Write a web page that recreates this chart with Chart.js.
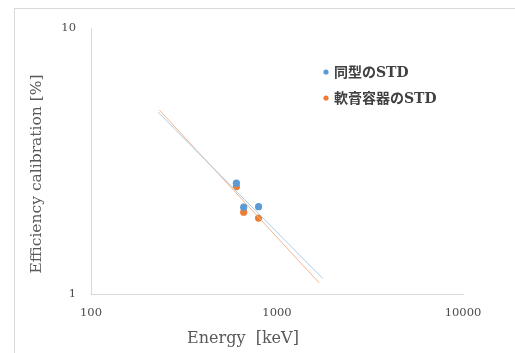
<!DOCTYPE html>
<html>
<head>
<meta charset="utf-8">
<script src="https://cdn.jsdelivr.net/npm/chart.js@4/dist/chart.umd.min.js"></script>
<style>
  html, body { margin: 0; padding: 0; background: #fff; overflow: hidden; }
  #wrap { position: relative; width: 515px; height: 353px; }
  #frame { position: absolute; left: 14px; top: 8px; width: 600px; height: 400px; border: 1px solid #d9d9d9; box-sizing: border-box; }
  #chart { position: absolute; left: 0; top: 0; }
</style>
</head>
<body>
<div id="wrap">
  <div id="frame"></div>
  <canvas id="chart" width="515" height="353"></canvas>
</div>
<script>
// measured points (keV vs %)
const energies = [605, 662, 796];
const sameType = [2.61, 2.12, 2.13];
const ointment = [2.53, 2.03, 1.93];

// trendline end points
const trendSameX = [229, 1758];
const trendSameY = [4.83, 1.146];
const trendOintX = [233, 1687];
const trendOintY = [4.92, 1.10];

const xTicks = [100, 1000, 10000];
const yTicks = [1, 10];

const seriesNames = ['同型のSTD', '軟膏容器のSTD'];
const BLUE = '#5b9bd5';
const ORANGE = '#ed7d31';

const toPoints = (xs, ys) => xs.map((x, i) => ({ x: x, y: ys[i] }));

// legend drawn inside the plot, like the Excel one
const insideLegend = {
    id: 'insideLegend',
    afterDatasetsDraw(chart) {
        const ctx = chart.ctx;
        const items = chart.data.datasets.filter(d => d.showInLegend);
        ctx.save();
        ctx.font = 'bold 14px "DejaVu Serif", "Noto Sans CJK JP"';
        ctx.textBaseline = 'middle';
        ctx.textAlign = 'left';
        items.forEach((d, i) => {
            const y = 72 + i * 26;
            ctx.fillStyle = d.backgroundColor;
            ctx.beginPath();
            ctx.arc(326, y, 2.6, 0, Math.PI * 2);
            ctx.fill();
            ctx.fillStyle = '#404040';
            ctx.fillText(d.label, 334, y + 1);
        });
        ctx.restore();
    }
};

// axis titles placed where the original has them
const axisTitles = {
    id: 'axisTitles',
    afterDraw(chart) {
        const ctx = chart.ctx;
        ctx.save();
        ctx.fillStyle = '#595959';
        ctx.textAlign = 'center';
        ctx.textBaseline = 'middle';
        ctx.font = '16px "DejaVu Serif"';
        ctx.fillText('Energy  [keV]', 243, 339);
        ctx.translate(37, 174);
        ctx.rotate(-Math.PI / 2);
        ctx.font = '15.5px "DejaVu Serif"';
        ctx.fillText('Efficiency calibration [%]', 0, 0);
        ctx.restore();
    }
};

new Chart(document.getElementById('chart').getContext('2d'), {
    type: 'scatter',
    data: {
        datasets: [
            { type: 'line', label: 'trend1', data: toPoints(trendSameX, trendSameY), borderColor: '#a9cbea', borderWidth: 1, pointRadius: 0, fill: false },
            { type: 'line', label: 'trend2', data: toPoints(trendOintX, trendOintY), borderColor: '#f5b48a', borderWidth: 1, pointRadius: 0, fill: false },
            { label: seriesNames[0], showInLegend: true, data: toPoints(energies, sameType), backgroundColor: BLUE, borderColor: BLUE, pointRadius: 3.6, borderWidth: 0 },
            { label: seriesNames[1], showInLegend: true, data: toPoints(energies, ointment), backgroundColor: ORANGE, borderColor: ORANGE, pointRadius: 3.6, borderWidth: 0 }
        ]
    },
    options: {
        responsive: false,
        animation: false,
        layout: { padding: { left: 0, top: 28, right: 52, bottom: 0 } },
        plugins: {
            legend: { display: false },
            tooltip: { enabled: false }
        },
        scales: {
            x: {
                type: 'logarithmic',
                min: 100,
                max: 10000,
                afterBuildTicks: s => { s.ticks = xTicks.map(v => ({ value: v })); },
                afterFit: s => { s.height = 59; },
                grid: { display: false, drawTicks: false },
                border: { display: true, color: '#d9d9d9', width: 1 },
                ticks: { color: '#4a4a4a', font: { family: 'DejaVu Serif', size: 11.5 }, padding: 12, maxRotation: 0, autoSkip: false, callback: v => String(v) }
            },
            y: {
                type: 'logarithmic',
                min: 1,
                max: 10,
                afterBuildTicks: s => { s.ticks = yTicks.map(v => ({ value: v })); },
                afterFit: s => { s.width = 91; },
                grid: { display: false, drawTicks: false },
                border: { display: true, color: '#d9d9d9', width: 1 },
                ticks: { color: '#4a4a4a', font: { family: 'DejaVu Serif', size: 11.5 }, padding: 15, autoSkip: false, callback: v => String(v) }
            }
        }
    },
    plugins: [insideLegend, axisTitles]
});
</script>
</body>
</html>
